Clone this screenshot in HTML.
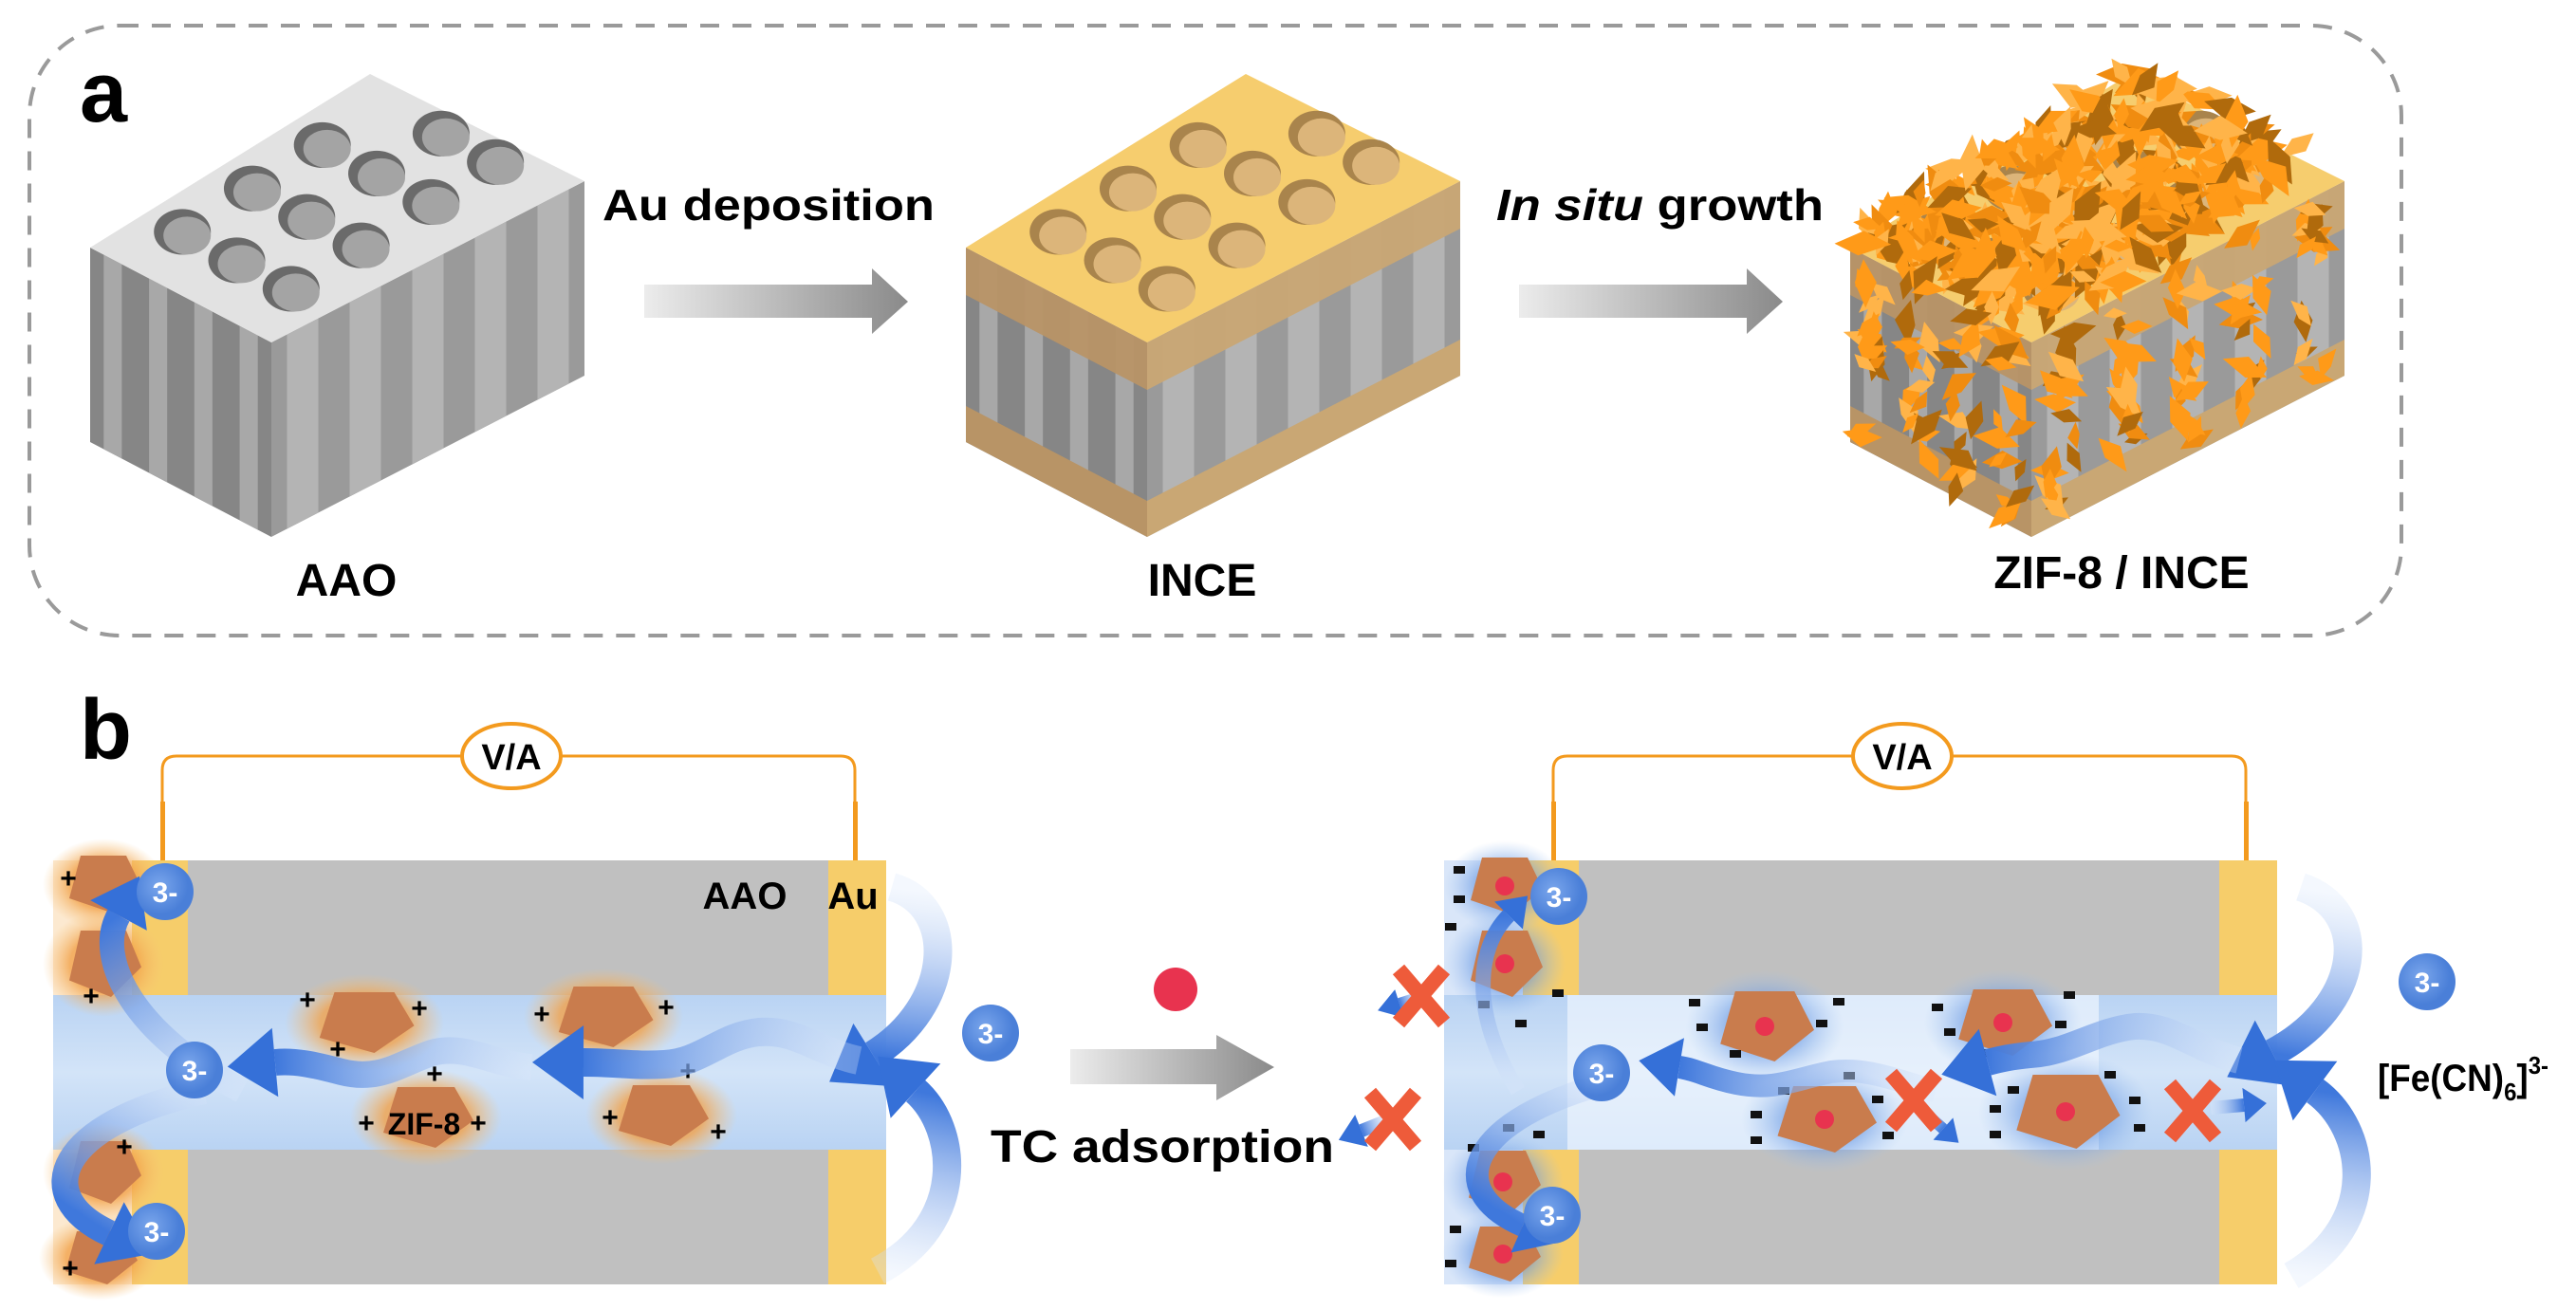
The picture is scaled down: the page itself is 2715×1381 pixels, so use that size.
<!DOCTYPE html>
<html><head><meta charset="utf-8">
<style>
html,body{margin:0;padding:0;background:#fff;}
svg{display:block;}
text{font-family:"Liberation Sans",Arial,sans-serif;font-weight:bold;}
</style></head>
<body>
<svg id="s" xmlns="http://www.w3.org/2000/svg" width="2715" height="1381" viewBox="0 0 2715 1381">
<defs>
<linearGradient id="garr" x1="0" y1="0" x2="1" y2="0">
<stop offset="0" stop-color="#ececec"/><stop offset="1" stop-color="#8a8a8a"/></linearGradient>
<linearGradient id="chan" x1="0" y1="0" x2="0" y2="1">
<stop offset="0" stop-color="#b9d3f3"/><stop offset="0.5" stop-color="#d3e4f8"/><stop offset="1" stop-color="#b9d3f3"/></linearGradient>
<radialGradient id="glowO"><stop offset="0.55" stop-color="#f2a24a" stop-opacity="0.8"/><stop offset="1" stop-color="#f6c27a" stop-opacity="0"/></radialGradient>
<radialGradient id="glowB"><stop offset="0.4" stop-color="#5c8fe0" stop-opacity="0.7"/><stop offset="1" stop-color="#9cc0f0" stop-opacity="0"/></radialGradient>
<radialGradient id="ion" cx="0.4" cy="0.4"><stop offset="0" stop-color="#7aa6ec"/><stop offset="1" stop-color="#4a7fd8"/></radialGradient>
</defs>
<rect x="31" y="27" width="2500" height="643" rx="95" fill="none" stroke="#9a9a9a" stroke-width="4" stroke-dasharray="20,14"/>
<text x="84" y="128" font-size="90">a</text>
<text x="84" y="800" font-size="90">b</text>
<g id="blocks"></g>
<polygon points="679,300 919,300 919,283 957,318 919,352 919,335 679,335" fill="url(#garr)"/>
<polygon points="1601,300 1841,300 1841,283 1879,318 1841,352 1841,335 1601,335" fill="url(#garr)"/>
<text x="635" y="232" font-size="46" textLength="350" lengthAdjust="spacingAndGlyphs">Au deposition</text>
<text x="1577" y="232" font-size="46" textLength="345" lengthAdjust="spacingAndGlyphs"><tspan font-style="italic">In situ</tspan> growth</text>
<text x="365" y="628" font-size="48" text-anchor="middle">AAO</text>
<text x="1267" y="628" font-size="48" text-anchor="middle">INCE</text>
<text x="2236" y="620" font-size="48" text-anchor="middle">ZIF-8 / INCE</text>
<g id="pb"></g>
<polygon points="1128,1106 1282,1106 1282,1091 1343,1125 1282,1160 1282,1143 1128,1143" fill="url(#garr)"/>
<circle cx="1239" cy="1043" r="23" fill="#e8334f"/>
<text x="1044" y="1225" font-size="48" textLength="362" lengthAdjust="spacingAndGlyphs">TC adsorption</text>
<text x="2506" y="1150" font-size="40" textLength="180" lengthAdjust="spacingAndGlyphs">[Fe(CN)<tspan font-size="26" dy="10">6</tspan><tspan dy="-10">]</tspan><tspan font-size="26" dy="-18">3-</tspan></text>
</svg>
<script>
var NS="http://www.w3.org/2000/svg";
function P(pts){return pts.map(function(p){return p[0].toFixed(1)+","+p[1].toFixed(1)}).join(" ");}
var seed=7;function rnd(){seed=(seed*9301+49297)%233280;return seed/233280;}
function block(dx,type){
 var L=[95+dx,261],T=[390+dx,78],R=[616+dx,191],F=[286+dx,361],H=205;
 var a=[T[0]-L[0],T[1]-L[1]],b=[F[0]-L[0],F[1]-L[1]];
 function add(p,q,k){return [p[0]+(q[0]-p[0])*k,p[1]+(q[1]-p[1])*k];}
 function dn(p,h){return [p[0],p[1]+h];}
 var g="";
 var faces=[[L,F,"#868686"],[F,R,"#9a9a9a"]];
 faces.forEach(function(f,fi){
   var A=f[0],B=f[1];
   g+='<polygon points="'+P([A,B,dn(B,H),dn(A,H)])+'" fill="'+f[2]+'"/>';
   var n=fi==0?4:5;
   for(var i=0;i<n;i++){var c=(i+0.5)/n;var p1=add(A,B,c-0.05),p2=add(A,B,c+0.05);
     g+='<polygon points="'+P([p1,p2,dn(p2,H),dn(p1,H)])+'" fill="'+(fi==0?"#a8a8a8":"#b4b4b4")+'"/>';}
   if(type>0){
     g+='<polygon points="'+P([A,B,dn(B,50),dn(A,50)])+'" fill="'+(fi==0?"#b89466":"#c9a774")+'" opacity="0.95"/>';
     g+='<polygon points="'+P([dn(A,H-38),dn(B,H-38),dn(B,H),dn(A,H)])+'" fill="'+(fi==0?"#b89466":"#c9a774")+'"/>';
   }
 });
 var topc=type==0?"#e2e2e2":"#f6cd6e", hole=type==0?"#a4a4a4":"#dcb57a", hole2=type==0?"#6a6a6a":"#a9844c";
 g+='<polygon points="'+P([L,T,R,F])+'" fill="'+topc+'"/>';
 var S=[0.2,0.45,0.7,0.93],Tt=[0.2,0.5,0.8];
 S.forEach(function(s){Tt.forEach(function(t){
   if(s>0.9&&t<0.3)return;
   var x=L[0]+s*a[0]+t*b[0],y=L[1]+s*a[1]+t*b[1];
   g+='<ellipse cx="'+x+'" cy="'+y+'" rx="30" ry="24" fill="'+hole2+'"/>';
   g+='<ellipse cx="'+(x+5)+'" cy="'+(y+4)+'" rx="25" ry="20" fill="'+hole+'"/>';
 });});
 if(type==2){
   var cols=["#ff9a18","#b06a0c","#ffb449","#f08c10","#ff9a18"];
   for(var i=0;i<420;i++){
     var s=rnd(),t=rnd(),x=L[0]+s*a[0]+t*b[0],y=L[1]+s*a[1]+t*b[1]-rnd()*20;
     g+=shard(x,y,cols[Math.floor(rnd()*5)],1.2);
   }
   faces.forEach(function(f,fi){var n=fi==0?4:5;
     for(var i=0;i<n;i++){var c=(i+0.5)/n;var p=add(f[0],f[1],c);
       for(var k=0;k<18;k++){g+=shard(p[0]+(rnd()-0.5)*30,p[1]+rnd()*(H-10),cols[Math.floor(rnd()*5)],1);}}
   });
 }
 return g;
}
function shard(x,y,c,sc){var r=(12+rnd()*14)*sc,an=rnd()*6.28,pts=[];
 for(var j=0;j<4;j++){var ang=an+j*1.57+(rnd()-0.5)*0.6,rr=r*(j%2?0.45:1);pts.push([x+Math.cos(ang)*rr,y+Math.sin(ang)*rr]);}
 return '<polygon points="'+P(pts)+'" fill="'+c+'"/>';}
document.getElementById("blocks").innerHTML=block(0,0)+block(923,1)+block(1855,2);

var g="";
function device(x0,right){
 var s="";
 s+='<rect x="'+(x0)+'" y="907" width="878" height="142" fill="#c0c0c0"/>';
 s+='<rect x="'+(x0)+'" y="1212" width="878" height="142" fill="#c0c0c0"/>';
 s+='<rect x="'+(x0)+'" y="1049" width="878" height="163" fill="url(#chan)"/>';
 if(right){s+='<rect x="'+(x0+130)+'" y="1049" width="560" height="163" fill="#eef5fd" opacity="0.7"/>';}
 s+='<rect x="'+x0+'" y="907" width="83" height="142" fill="#fff"/>';
 s+='<rect x="'+x0+'" y="1212" width="83" height="142" fill="#fff"/>';
 s+='<rect x="'+x0+'" y="907" width="83" height="142" fill="'+(right?"#cfe0f7":"#fbe3c4")+'" opacity="0.8"/>';
 s+='<rect x="'+x0+'" y="1212" width="83" height="142" fill="'+(right?"#cfe0f7":"#fbe3c4")+'" opacity="0.8"/>';
 s+='<rect x="'+(x0+83)+'" y="907" width="59" height="142" fill="#f6cd6a"/>';
 s+='<rect x="'+(x0+83)+'" y="1212" width="59" height="142" fill="#f6cd6a"/>';
 s+='<rect x="'+(x0+817)+'" y="907" width="61" height="142" fill="#f6cd6a"/>';
 s+='<rect x="'+(x0+817)+'" y="1212" width="61" height="142" fill="#f6cd6a"/>';
 var wl=x0+115,wr=x0+845,cx=x0+483;
 s+='<path d="M'+wl+' 907 V812 Q'+wl+' 797 '+(wl+15)+' 797 H'+(wr-15)+' Q'+wr+' 797 '+wr+' 812 V907" fill="none" stroke="#f39a1e" stroke-width="3"/>';
 s+='<rect x="'+(wl-2)+'" y="845" width="5" height="62" fill="#f39a1e"/><rect x="'+(wr-2)+'" y="845" width="5" height="62" fill="#f39a1e"/>';
 s+='<ellipse cx="'+cx+'" cy="797" rx="52" ry="34" fill="#fff" stroke="#f39a1e" stroke-width="4"/>';
 s+='<text x="'+cx+'" y="811" font-size="38" text-anchor="middle" font-weight="normal">V/A</text>';
 return s;
}
g+=device(56,false)+device(1522,true);
function pent(x,y,w,h,red){
 var pts=[[x-w*0.3,y-h/2],[x+w*0.3,y-h/2],[x+w/2,y+h*0.05],[x+w*0.1,y+h/2],[x-w*0.45,y+h*0.25]];
 var s='<ellipse cx="'+x+'" cy="'+y+'" rx="'+(w*0.8)+'" ry="'+(h*0.8)+'" fill="url(#'+(red?'glowB':'glowO')+')"/>';
 s+='<polygon points="'+P(pts)+'" fill="#c97c4d"/>';
 if(red)s+='<circle cx="'+x+'" cy="'+y+'" r="10" fill="#e8334f"/>';
 return s;
}
[[384,1078,105,64],[636,1072,105,64],[449,1178,100,64],[697,1176,100,64],[109,932,80,60],[109,1016,80,70],[109,1236,80,66],[105,1326,80,56]].forEach(function(p){g+=pent(p[0],p[1],p[2],p[3],false);});
[[1860,1082,104,74],[2111,1078,104,70],[1923,1180,110,70],[2177,1172,115,78],[1586,934,80,60],[1586,1016,80,70],[1584,1246,80,66],[1584,1322,80,58]].forEach(function(p){g+=pent(p[0],p[1],p[2],p[3],true);});
[[72,926],[96,1050],[324,1054],[442,1063],[356,1106],[571,1069],[702,1062],[458,1132],[725,1129],[386,1184],[504,1184],[643,1178],[757,1193],[131,1209],[74,1337]].forEach(function(p){g+='<text x="'+p[0]+'" y="'+(p[1]+10)+'" font-size="30" text-anchor="middle">+</text>';});
[[1538,917],[1538,948],[1529,977],[1642,1047],[1564,1059],[1603,1079],[1786,1057],[1938,1056],[1794,1083],[1920,1079],[1829,1111],[2042,1062],[2181,1049],[2055,1088],[2172,1080],[2090,1110],[1949,1134],[1880,1150],[1979,1159],[1851,1175],[1851,1202],[1990,1197],[2224,1133],[2122,1149],[2103,1169],[2250,1160],[2103,1196],[2255,1189],[1590,1189],[1622,1196],[1553,1210],[1534,1296],[1529,1332]].forEach(function(p){g+='<rect x="'+(p[0]-6)+'" y="'+(p[1]-4)+'" width="12" height="8" fill="#111"/>';});
document.getElementById("pb").innerHTML=g;

var pb=document.getElementById("pb");var gid=0;
function arrow(d,w,head){
 var path=document.createElementNS(NS,"path");path.setAttribute("d",d);pb.appendChild(path);
 var L=path.getTotalLength(),p0=path.getPointAtLength(0),p1=path.getPointAtLength(L),pm=path.getPointAtLength(L-2);
 pb.removeChild(path);
 var id="ag"+(gid++);
 var s='<defs><linearGradient id="'+id+'" gradientUnits="userSpaceOnUse" x1="'+p0.x+'" y1="'+p0.y+'" x2="'+p1.x+'" y2="'+p1.y+'"><stop offset="0" stop-color="#dbe8fb" stop-opacity="0.3"/><stop offset="1" stop-color="#3f78dc"/></linearGradient></defs>';
 s+='<path d="'+d+'" fill="none" stroke="url(#'+id+')" stroke-width="'+w+'"/>';
 var ang=Math.atan2(p1.y-pm.y,p1.x-pm.x),hl=head||w*1.8,hw=w*1.3;
 var tip=[p1.x+Math.cos(ang)*hl,p1.y+Math.sin(ang)*hl];
 var l=[p1.x+Math.cos(ang+1.5708)*hw,p1.y+Math.sin(ang+1.5708)*hw],r=[p1.x+Math.cos(ang-1.5708)*hw,p1.y+Math.sin(ang-1.5708)*hw];
 s+='<polygon points="'+P([tip,l,r])+'" fill="#3570d8"/>';
 return s;
}
var a="";
a+=arrow("M940 935 C1010 955 1005 1060 920 1112",30);
a+=arrow("M925 1340 C1020 1290 1010 1190 965 1150",30);
a+=arrow("M905 1118 C860 1108 840 1085 800 1088 C760 1092 740 1120 700 1122 C670 1124 650 1120 615 1120",30);
a+=arrow("M560 1125 C520 1122 490 1100 455 1110 C420 1122 400 1140 360 1130 C330 1122 310 1118 290 1120",28);
a+=arrow("M255 1150 C140 1090 100 1010 125 965",26);
a+=arrow("M215 1150 C60 1185 30 1260 115 1300",28);
a+=arrow("M2425 935 C2500 960 2490 1060 2395 1110",30);
a+=arrow("M2415 1345 C2510 1290 2495 1190 2440 1150",30);
a+=arrow("M2360 1118 C2310 1105 2290 1080 2250 1082 C2210 1086 2180 1110 2140 1112 C2120 1114 2110 1116 2095 1120",28);
a+=arrow("M2040 1150 C2000 1140 1970 1125 1930 1130 C1890 1138 1870 1150 1830 1142 C1800 1136 1790 1128 1770 1125",24);
a+=arrow("M1600 1150 C1550 1070 1555 1000 1590 965",16);
a+=arrow("M1700 1140 C1545 1180 1520 1255 1605 1292",24);
a+=arrow("M2020 1165 L2048 1190",12,22);
a+=arrow("M2330 1168 L2365 1165",14,24);
a+=arrow("M1500 1050 L1475 1058",12,24);
a+=arrow("M1465 1180 L1435 1192",14,26);
pb.insertAdjacentHTML("beforeend",a);
var ions="";
[[174,940],[205,1128],[165,1298],[1044,1089],[1643,945],[1688,1131],[1636,1281],[2558,1035]].forEach(function(p){
 ions+='<circle cx="'+p[0]+'" cy="'+p[1]+'" r="30" fill="url(#ion)"/><text x="'+p[0]+'" y="'+(p[1]+11)+'" font-size="30" font-weight="normal" fill="#fff" text-anchor="middle">3-</text>';});
[[2017,1160],[2311,1171],[1498,1050],[1468,1180]].forEach(function(p){
 ions+='<g transform="translate('+p[0]+','+p[1]+')"><path d="M-24 -28 L24 28 M24 -28 L-24 28" stroke="#ee5b3a" stroke-width="16"/></g>';});
ions+='<text x="447" y="1196" font-size="32" text-anchor="middle">ZIF-8</text>';
ions+='<text x="785" y="958" font-size="40" text-anchor="middle" font-weight="normal">AAO</text>';
ions+='<text x="899" y="958" font-size="40" text-anchor="middle" font-weight="normal">Au</text>';
pb.insertAdjacentHTML("beforeend",ions);
</script>
</body></html>
